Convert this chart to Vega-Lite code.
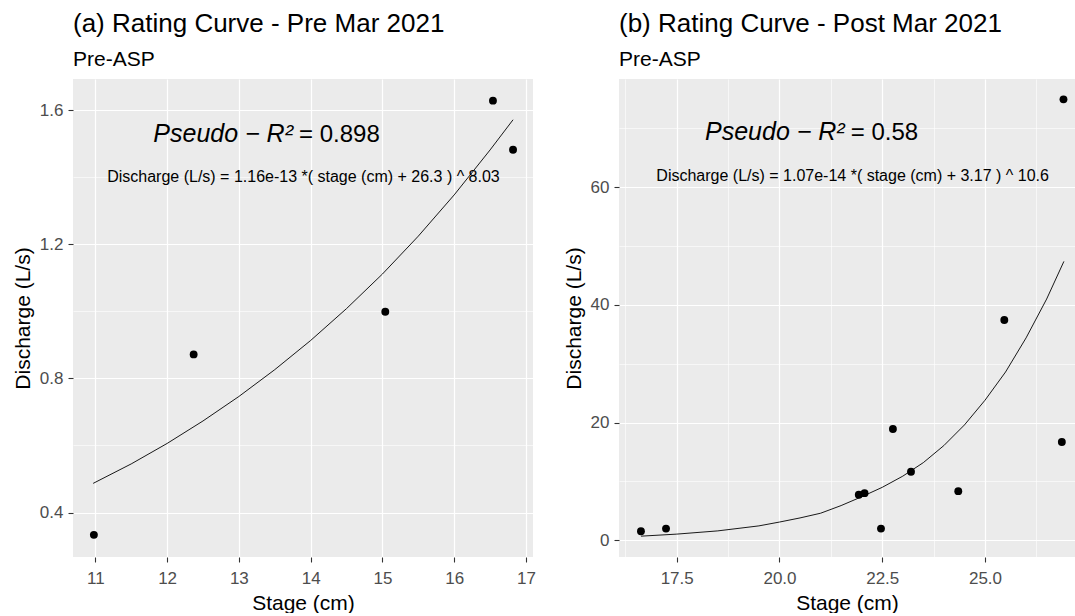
{
  "$schema": "https://vega.github.io/schema/vega-lite/v6.json",
  "padding": {"left": 12, "top": 11, "right": 0, "bottom": 0},
  "spacing": 86,
  "bounds": "flush",
  "config": {
    "font": "Liberation Sans",
    "view": {"fill": "#EBEBEB", "stroke": null},
    "axis": {
      "domain": false,
      "gridColor": "#FFFFFF",
      "tickColor": "#333333",
      "tickSize": 5,
      "tickWidth": 1.1,
      "labelColor": "#4D4D4D",
      "labelFontSize": 17,
      "labelFont": "Liberation Sans",
      "titleFont": "Liberation Sans",
      "titleFontSize": 21,
      "titleFontWeight": "normal",
      "titleColor": "#000000",
      "labelOverlap": false,
      "labelFlush": false
    },
    "axisX": {"labelPadding": 8, "titlePadding": 6},
    "axisY": {"labelPadding": 5, "titlePadding": 6},
    "title": {
      "anchor": "start",
      "frame": "group",
      "offset": 9,
      "subtitlePadding": 12,
      "font": "Liberation Sans",
      "fontSize": 26,
      "fontWeight": "normal",
      "color": "#000000",
      "subtitleFont": "Liberation Sans",
      "subtitleFontSize": 21,
      "subtitleColor": "#000000"
    }
  },
  "hconcat": [
    {
      "width": 460,
      "height": 478,
      "title": {"text": "(a) Rating Curve - Pre Mar 2021", "subtitle": "Pre-ASP"},
      "layer": [
        {
          "data": {"values": [
            {"stage": 10.98, "discharge": 0.3335},
            {"stage": 12.37, "discharge": 0.8715},
            {"stage": 15.04, "discharge": 0.9985},
            {"stage": 16.54, "discharge": 1.628},
            {"stage": 16.82, "discharge": 1.4816}
          ]},
          "mark": {"type": "circle", "size": 62, "color": "#000000", "opacity": 1},
          "encoding": {
            "x": {
              "field": "stage", "type": "quantitative", "title": "Stage (cm)",
              "scale": {"domain": [10.689, 17.098], "nice": false, "zero": false},
              "axis": {
                "values": [11, 11.5, 12, 12.5, 13, 13.5, 14, 14.5, 15, 15.5, 16, 16.5, 17],
                "format": ".0f",
                "labelExpr": "datum.value % 1 === 0 ? datum.label : ''",
                "gridWidth": {"condition": {"test": "datum.value % 1 !== 0", "value": 0.6}, "value": 1.2},
                "tickOpacity": {"condition": {"test": "datum.value % 1 !== 0", "value": 0}, "value": 1}
              }
            },
            "y": {
              "field": "discharge", "type": "quantitative", "title": "Discharge (L/s)",
              "scale": {"domain": [0.2675, 1.6925], "nice": false, "zero": false},
              "axis": {
                "values": [0.4, 0.6, 0.8, 1.0, 1.2, 1.4, 1.6],
                "format": ".1f",
                "labelExpr": "indexof([0.6, 1.0, 1.4], datum.value) >= 0 ? '' : datum.label",
                "gridWidth": {"condition": {"test": "indexof([0.6, 1.0, 1.4], datum.value) >= 0", "value": 0.6}, "value": 1.2},
                "tickOpacity": {"condition": {"test": "indexof([0.6, 1.0, 1.4], datum.value) >= 0", "value": 0}, "value": 1}
              }
            }
          }
        },
        {
          "data": {"values": [
            {"stage": 10.97, "discharge": 0.487},
            {"stage": 11.5, "discharge": 0.545},
            {"stage": 12.0, "discharge": 0.606},
            {"stage": 12.5, "discharge": 0.673},
            {"stage": 13.0, "discharge": 0.746},
            {"stage": 13.5, "discharge": 0.826},
            {"stage": 14.0, "discharge": 0.913},
            {"stage": 14.5, "discharge": 1.008},
            {"stage": 15.0, "discharge": 1.111},
            {"stage": 15.5, "discharge": 1.224},
            {"stage": 16.0, "discharge": 1.347},
            {"stage": 16.5, "discharge": 1.481},
            {"stage": 16.82, "discharge": 1.571}
          ]},
          "mark": {"type": "line", "color": "#000000", "strokeWidth": 0.9},
          "encoding": {
            "x": {"field": "stage", "type": "quantitative", "title": "Stage (cm)"},
            "y": {"field": "discharge", "type": "quantitative", "title": "Discharge (L/s)"}
          }
        },
        {
          "data": {"values": [{"stage": 13.796, "discharge": 1.5055, "label": "Pseudo  −  R²"}]},
          "mark": {"type": "text", "align": "right", "baseline": "alphabetic", "dx": -3, "fontSize": 25, "fontStyle": "italic", "color": "#000000"},
          "encoding": {
            "x": {"field": "stage", "type": "quantitative", "title": "Stage (cm)"},
            "y": {"field": "discharge", "type": "quantitative", "title": "Discharge (L/s)"},
            "text": {"field": "label"}
          }
        },
        {
          "data": {"values": [{"stage": 13.796, "discharge": 1.5055, "label": "= 0.898"}]},
          "mark": {"type": "text", "align": "left", "baseline": "alphabetic", "dx": 3, "fontSize": 24, "color": "#000000"},
          "encoding": {
            "x": {"field": "stage", "type": "quantitative", "title": "Stage (cm)"},
            "y": {"field": "discharge", "type": "quantitative", "title": "Discharge (L/s)"},
            "text": {"field": "label"}
          }
        },
        {
          "data": {"values": [{"stage": 13.9, "discharge": 1.386, "label": "Discharge (L/s) = 1.16e-13 *( stage (cm) + 26.3 ) ^ 8.03"}]},
          "mark": {"type": "text", "align": "center", "baseline": "alphabetic", "fontSize": 16, "color": "#000000"},
          "encoding": {
            "x": {"field": "stage", "type": "quantitative", "title": "Stage (cm)"},
            "y": {"field": "discharge", "type": "quantitative", "title": "Discharge (L/s)"},
            "text": {"field": "label"}
          }
        }
      ]
    },
    {
      "width": 456,
      "height": 478,
      "title": {"text": "(b) Rating Curve - Post Mar 2021", "subtitle": "Pre-ASP"},
      "layer": [
        {
          "data": {"values": [
            {"stage": 16.63, "discharge": 1.53},
            {"stage": 17.24, "discharge": 1.99},
            {"stage": 21.93, "discharge": 7.73},
            {"stage": 22.07, "discharge": 8.01},
            {"stage": 22.47, "discharge": 1.99},
            {"stage": 22.76, "discharge": 18.92},
            {"stage": 23.2, "discharge": 11.65},
            {"stage": 24.35, "discharge": 8.35},
            {"stage": 25.47, "discharge": 37.44},
            {"stage": 26.87, "discharge": 16.7},
            {"stage": 26.91, "discharge": 74.94}
          ]},
          "mark": {"type": "circle", "size": 62, "color": "#000000", "opacity": 1},
          "encoding": {
            "x": {
              "field": "stage", "type": "quantitative", "title": "Stage (cm)",
              "scale": {"domain": [16.096, 27.19], "nice": false, "zero": false},
              "axis": {
                "values": [16.25, 17.5, 18.75, 20, 21.25, 22.5, 23.75, 25, 26.25],
                "format": ".1f",
                "labelExpr": "indexof([16.25, 18.75, 21.25, 23.75, 26.25], datum.value) >= 0 ? '' : datum.label",
                "gridWidth": {"condition": {"test": "indexof([16.25, 18.75, 21.25, 23.75, 26.25], datum.value) >= 0", "value": 0.6}, "value": 1.2},
                "tickOpacity": {"condition": {"test": "indexof([16.25, 18.75, 21.25, 23.75, 26.25], datum.value) >= 0", "value": 0}, "value": 1}
              }
            },
            "y": {
              "field": "discharge", "type": "quantitative", "title": "Discharge (L/s)",
              "scale": {"domain": [-2.84, 78.4], "nice": false, "zero": false},
              "axis": {
                "values": [0, 10, 20, 30, 40, 50, 60, 70],
                "format": ".0f",
                "labelExpr": "datum.value % 20 !== 0 ? '' : datum.label",
                "gridWidth": {"condition": {"test": "datum.value % 20 !== 0", "value": 0.6}, "value": 1.2},
                "tickOpacity": {"condition": {"test": "datum.value % 20 !== 0", "value": 0}, "value": 1}
              }
            }
          }
        },
        {
          "data": {"values": [
            {"stage": 16.63, "discharge": 0.7},
            {"stage": 17.5, "discharge": 1.05},
            {"stage": 18.5, "discharge": 1.6},
            {"stage": 19.5, "discharge": 2.45},
            {"stage": 20.0, "discharge": 3.1},
            {"stage": 20.5, "discharge": 3.8},
            {"stage": 21.0, "discharge": 4.6},
            {"stage": 21.5, "discharge": 5.9},
            {"stage": 22.0, "discharge": 7.4},
            {"stage": 22.5, "discharge": 9.0},
            {"stage": 23.0, "discharge": 10.9},
            {"stage": 23.5, "discharge": 13.2},
            {"stage": 24.0, "discharge": 16.1},
            {"stage": 24.5, "discharge": 19.6},
            {"stage": 25.0, "discharge": 23.8},
            {"stage": 25.5, "discharge": 28.6},
            {"stage": 26.0, "discharge": 34.4},
            {"stage": 26.5, "discharge": 41.0},
            {"stage": 26.92, "discharge": 47.4}
          ]},
          "mark": {"type": "line", "color": "#000000", "strokeWidth": 0.9},
          "encoding": {
            "x": {"field": "stage", "type": "quantitative", "title": "Stage (cm)"},
            "y": {"field": "discharge", "type": "quantitative", "title": "Discharge (L/s)"}
          }
        },
        {
          "data": {"values": [{"stage": 21.66, "discharge": 67.95, "label": "Pseudo  −  R²"}]},
          "mark": {"type": "text", "align": "right", "baseline": "alphabetic", "dx": -3, "fontSize": 25, "fontStyle": "italic", "color": "#000000"},
          "encoding": {
            "x": {"field": "stage", "type": "quantitative", "title": "Stage (cm)"},
            "y": {"field": "discharge", "type": "quantitative", "title": "Discharge (L/s)"},
            "text": {"field": "label"}
          }
        },
        {
          "data": {"values": [{"stage": 21.66, "discharge": 67.95, "label": "= 0.58"}]},
          "mark": {"type": "text", "align": "left", "baseline": "alphabetic", "dx": 3, "fontSize": 24, "color": "#000000"},
          "encoding": {
            "x": {"field": "stage", "type": "quantitative", "title": "Stage (cm)"},
            "y": {"field": "discharge", "type": "quantitative", "title": "Discharge (L/s)"},
            "text": {"field": "label"}
          }
        },
        {
          "data": {"values": [{"stage": 21.78, "discharge": 61.14, "label": "Discharge (L/s) = 1.07e-14 *( stage (cm) + 3.17 ) ^ 10.6"}]},
          "mark": {"type": "text", "align": "center", "baseline": "alphabetic", "fontSize": 16, "color": "#000000"},
          "encoding": {
            "x": {"field": "stage", "type": "quantitative", "title": "Stage (cm)"},
            "y": {"field": "discharge", "type": "quantitative", "title": "Discharge (L/s)"},
            "text": {"field": "label"}
          }
        }
      ]
    }
  ]
}
